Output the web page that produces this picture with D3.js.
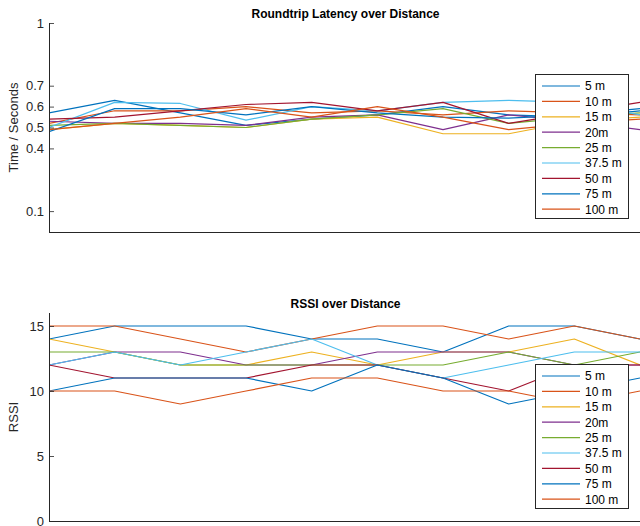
<!DOCTYPE html>
<html>
<head>
<meta charset="utf-8">
<script src="https://cdn.jsdelivr.net/npm/d3@7"></script>
<style>
  html, body { margin: 0; padding: 0; background: #fff; }
  svg { display: block; font-family: "Liberation Sans", Arial, Helvetica, sans-serif; }
</style>
</head>
<body>
<svg id="fig" width="640" height="526"></svg>
<script>
// Measurement index along the x axis
const samples = [1, 2, 3, 4, 5, 6, 7, 8, 9, 10];

// Series names and colours (MATLAB default colour order)
const seriesNames = ["5 m", "10 m", "15 m", "20m", "25 m", "37.5 m", "50 m", "75 m", "100 m"];
const seriesColors = ["#0072BD", "#D95319", "#EDB120", "#7E2F8E", "#77AC30", "#4DBEEE", "#A2142F", "#0072BD", "#D95319"];

// Roundtrip latency (seconds), one row per distance
const latencySeries = [
  [0.57, 0.63, 0.57, 0.51, 0.54, 0.56, 0.60, 0.56, 0.55, 0.58],
  [0.52, 0.58, 0.58, 0.60, 0.57, 0.58, 0.56, 0.58, 0.57, 0.56],
  [0.49, 0.52, 0.51, 0.50, 0.54, 0.55, 0.47, 0.47, 0.53, 0.55],
  [0.53, 0.52, 0.52, 0.51, 0.55, 0.56, 0.49, 0.56, 0.53, 0.49],
  [0.51, 0.52, 0.51, 0.50, 0.54, 0.56, 0.59, 0.52, 0.55, 0.57],
  [0.50, 0.62, 0.615, 0.535, 0.60, 0.58, 0.62, 0.63, 0.62, 0.56],
  [0.54, 0.55, 0.58, 0.61, 0.62, 0.58, 0.62, 0.52, 0.57, 0.62],
  [0.48, 0.59, 0.59, 0.56, 0.60, 0.57, 0.55, 0.545, 0.56, 0.59],
  [0.49, 0.52, 0.55, 0.59, 0.55, 0.60, 0.55, 0.49, 0.52, 0.54]
];
const latencyTicks = [0.1, 0.4, 0.5, 0.6, 0.7, 1];

// RSSI readings, one row per distance
const rssiSeries = [
  [14, 15, 15, 15, 14, 14, 13, 15, 15, 14],
  [15, 15, 14, 13, 14, 15, 15, 14, 15, 14],
  [14, 13, 12, 12, 13, 12, 13, 13, 14, 12],
  [12, 13, 13, 12, 12, 13, 13, 13, 12, 12],
  [13, 13, 12, 12, 12, 12, 12, 13, 12, 13],
  [12, 13, 12, 13, 14, 12, 11, 12, 13, 13],
  [12, 11, 11, 11, 12, 12, 11, 10, 12, 12],
  [10, 11, 11, 11, 10, 12, 11, 9, 10, 11],
  [10, 10, 9, 10, 11, 11, 10, 10, 9, 10]
];
const rssiTicks = [0, 5, 10, 15];

const svg = d3.select("#fig");
const axisColor = "#262626";

function drawPanel(cfg) {
  const g = svg.append("g");
  const x = d3.scaleLinear().domain([1, 10]).range([cfg.left, cfg.right]);
  const y = d3.scaleLinear().domain(cfg.yDomain).range([cfg.bottom, cfg.top]);

  const clipId = "clip-" + cfg.id;
  svg.append("clipPath").attr("id", clipId)
    .append("rect")
    .attr("x", cfg.left).attr("y", cfg.top - 2)
    .attr("width", cfg.right - cfg.left + 2).attr("height", cfg.bottom - cfg.top + 2);

  // Data lines
  const line = d3.line().x((d, i) => x(samples[i])).y(d => y(d));
  g.append("g").attr("clip-path", `url(#${clipId})`)
    .selectAll("path").data(cfg.series).join("path")
    .attr("d", d => line(d))
    .attr("fill", "none")
    .attr("stroke", (d, i) => seriesColors[i])
    .attr("stroke-width", 1.2)
    .attr("stroke-linejoin", "round");

  // Y axis with inward ticks
  const yAxis = d3.axisRight(y).tickValues(cfg.ticks).tickSize(5).tickPadding(0).tickFormat(() => "");
  const ya = g.append("g").attr("transform", `translate(${cfg.left},0)`).call(yAxis);
  ya.select(".domain").remove();
  ya.selectAll(".tick line").attr("stroke", axisColor).attr("stroke-width", 0.8);
  g.append("line")
    .attr("x1", cfg.left + 0.5).attr("x2", cfg.left + 0.5)
    .attr("y1", cfg.top).attr("y2", cfg.bottom)
    .attr("stroke", axisColor).attr("stroke-width", 1);

  // Tick labels
  g.selectAll("text.ytl").data(cfg.ticks).join("text")
    .attr("class", "ytl")
    .attr("x", cfg.left - 5)
    .attr("y", d => y(d))
    .attr("dy", "0.35em")
    .attr("text-anchor", "end")
    .attr("font-size", 13)
    .attr("fill", axisColor)
    .text(d => cfg.format(d));

  // X axis baseline
  g.append("line")
    .attr("x1", cfg.left).attr("x2", cfg.right)
    .attr("y1", cfg.bottom + 0.5).attr("y2", cfg.bottom + 0.5)
    .attr("stroke", axisColor).attr("stroke-width", 1);

  // Title
  g.append("text")
    .attr("x", (cfg.left + cfg.right) / 2 + 1)
    .attr("y", cfg.top - 5)
    .attr("text-anchor", "middle")
    .attr("font-size", 12)
    .attr("font-weight", "bold")
    .attr("fill", "#000")
    .text(cfg.title);

  // Y label
  g.append("text")
    .attr("transform", `translate(${cfg.left - 31},${(cfg.top + cfg.bottom) / 2}) rotate(-90)`)
    .attr("text-anchor", "middle")
    .attr("font-size", 13)
    .attr("fill", axisColor)
    .text(cfg.ylabel);

  // Legend
  const lg = g.append("g").attr("transform", `translate(${cfg.legendX},${cfg.legendY})`);
  const step = 15.4;
  lg.append("rect")
    .attr("x", 0.5).attr("y", 0.5)
    .attr("width", 93).attr("height", 144)
    .attr("fill", "#fff")
    .attr("stroke", axisColor).attr("stroke-width", 1);
  const items = lg.selectAll("g.item").data(seriesNames).join("g")
    .attr("class", "item")
    .attr("transform", (d, i) => `translate(0,${12 + i * step})`);
  items.append("line")
    .attr("x1", 7).attr("x2", 45)
    .attr("stroke", (d, i) => seriesColors[i])
    .attr("stroke-width", 1.2);
  items.append("text")
    .attr("x", 50).attr("dy", "0.36em")
    .attr("font-size", 12)
    .attr("fill", "#000")
    .text(d => d);
}

drawPanel({
  id: "latency",
  series: latencySeries,
  ticks: latencyTicks,
  yDomain: [0, 1],
  format: d => d3.format("")(d),
  left: 49, right: 640, top: 23, bottom: 232,
  title: "Roundtrip Latency over Distance",
  ylabel: "Time / Seconds",
  legendX: 535, legendY: 74
});

drawPanel({
  id: "rssi",
  series: rssiSeries,
  ticks: rssiTicks,
  yDomain: [0, 16],
  format: d => String(d),
  left: 49, right: 640, top: 313, bottom: 521,
  title: "RSSI over Distance",
  ylabel: "RSSI",
  legendX: 535, legendY: 364
});
</script>
</body>
</html>
